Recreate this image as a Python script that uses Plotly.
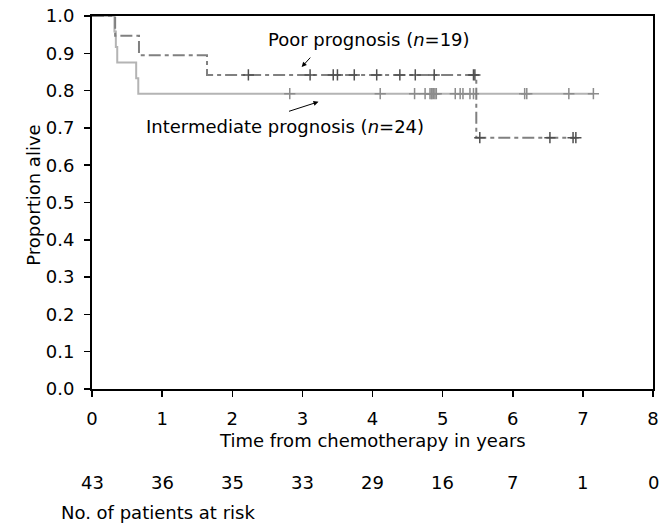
import plotly.graph_objects as go

# ---- data ----
# Poor prognosis group (n=19): follow-up times in years and event flag (1 = death, 0 = censored)
poor_times = [0.33, 0.67, 1.64, 2.23, 3.11, 3.44, 3.50, 3.74, 4.06, 4.39, 4.61, 4.88,
              5.44, 5.46, 5.48, 5.53, 6.53, 6.86, 6.90]
poor_events = [1, 1, 1, 0, 0, 0, 0, 0, 0, 0, 0, 0,
               0, 0, 1, 0, 0, 0, 0]

# Intermediate prognosis group (n=24)
int_times = [0.32, 0.34, 0.36, 0.63, 0.66, 2.82, 4.11, 4.60, 4.75, 4.82, 4.84, 4.85,
             4.87, 4.89, 4.91, 5.18, 5.25, 5.29, 5.39, 5.44, 6.17, 6.20, 6.80, 7.15]
int_events = [1, 1, 1, 1, 1, 0, 0, 0, 0, 0, 0, 0,
              0, 0, 0, 0, 0, 0, 0, 0, 0, 0, 0, 0]

risk_years = [0, 1, 2, 3, 4, 5, 6, 7, 8]
risk_counts = [43, 36, 35, 33, 29, 16, 7, 1, 0]

x_ticks = [0, 1, 2, 3, 4, 5, 6, 7, 8]
y_ticks = [0.0, 0.1, 0.2, 0.3, 0.4, 0.5, 0.6, 0.7, 0.8, 0.9, 1.0]


def kaplan_meier(times, events):
    pairs = sorted(zip(times, events))
    n_risk = len(pairs)
    s = 1.0
    xs, ys = [0.0], [1.0]
    cx, cy = [], []
    uniq = sorted(set(t for t, _ in pairs))
    for t in uniq:
        d = sum(1 for tt, e in pairs if tt == t and e == 1)
        c = sum(1 for tt, e in pairs if tt == t and e == 0)
        if d:
            s *= (n_risk - d) / n_risk
            xs.append(t)
            ys.append(s)
        for _ in range(c):
            cx.append(t)
            cy.append(s)
        n_risk -= d + c
    xs.append(max(times))
    ys.append(s)
    return xs, ys, cx, cy


FONT = "DejaVu Sans"
FS = 18

fig = go.Figure()

ix, iy, icx, icy = kaplan_meier(int_times, int_events)
px_, py_, pcx, pcy = kaplan_meier(poor_times, poor_events)

fig.add_trace(go.Scatter(x=ix, y=iy, mode="lines", line=dict(shape="hv", color="#b4b4b4", width=2),
                         showlegend=False, hoverinfo="skip", cliponaxis=False))
fig.add_trace(go.Scatter(x=icx, y=icy, mode="markers",
                         marker=dict(symbol="cross-thin", size=8, line=dict(color="#8c8c8c", width=1.5)),
                         showlegend=False, cliponaxis=False))
fig.add_trace(go.Scatter(x=px_, y=py_, mode="lines",
                         line=dict(shape="hv", color="#808080", width=2, dash="12px,4px,4px,4px"),
                         showlegend=False, hoverinfo="skip", cliponaxis=False))
fig.add_trace(go.Scatter(x=pcx, y=pcy, mode="markers",
                         marker=dict(symbol="cross-thin", size=8, line=dict(color="#505050", width=1.5)),
                         showlegend=False, cliponaxis=False))

annotations = [
    dict(x=2.99, y=0.863, xref="x", yref="y", ax=10, ay=-11, showarrow=True,
         arrowhead=2, arrowsize=1, arrowwidth=1, arrowcolor="black", text=""),
    dict(x=3.95, y=0.937, xref="x", yref="y", showarrow=False,
         text="Poor prognosis (<i>n</i>=19)", font=dict(family=FONT, size=FS, color="black")),
    dict(x=3.23, y=0.770, xref="x", yref="y", ax=-31, ay=10, showarrow=True,
         arrowhead=2, arrowsize=1, arrowwidth=1, arrowcolor="black", text=""),
    dict(x=2.75, y=0.705, xref="x", yref="y", showarrow=False,
         text="Intermediate prognosis (<i>n</i>=24)", font=dict(family=FONT, size=FS, color="black")),
    dict(x=0.5, y=-0.137, xref="paper", yref="paper", showarrow=False, yanchor="middle",
         text="Time from chemotherapy in years", font=dict(family=FONT, size=FS, color="black")),
    dict(x=-0.128, y=0.52, xref="paper", yref="paper", showarrow=False, textangle=-90,
         text="Proportion alive", font=dict(family=FONT, size=FS, color="black")),
    dict(x=-0.0595, y=-0.332, xref="paper", yref="paper", showarrow=False, xanchor="left", yanchor="middle",
         text="No. of patients at risk", font=dict(family=FONT, size=FS, color="black")),
]
for yr, cnt in zip(risk_years, risk_counts):
    annotations.append(dict(x=yr, y=-0.252, xref="x", yref="paper", showarrow=False, yanchor="middle",
                            text=str(cnt), font=dict(family=FONT, size=FS, color="black")))

fig.update_layout(
    template="none",
    width=660, height=526,
    margin=dict(l=92, r=7, t=16, b=137, autoexpand=False),
    paper_bgcolor="white", plot_bgcolor="white",
    font=dict(family=FONT, size=FS, color="black"),
    annotations=annotations,
    showlegend=False,
)
fig.update_xaxes(range=[0, 8], tickvals=x_ticks, ticktext=[str(v) for v in x_ticks], automargin=False,
                 showgrid=False, zeroline=False, showline=True, linecolor="black", linewidth=2,
                 mirror=True, ticks="outside", ticklen=6, tickwidth=1.5, tickcolor="black",
                 ticklabelstandoff=6, ticklabeloverflow="allow")
fig.update_yaxes(range=[0, 1], tickvals=y_ticks, ticktext=[f"{v:.1f}" for v in y_ticks], automargin=False,
                 showgrid=False, zeroline=False, showline=True, linecolor="black", linewidth=2,
                 mirror=True, ticks="outside", ticklen=6, tickwidth=1.5, tickcolor="black",
                 ticklabelstandoff=6, ticklabeloverflow="allow")

# remove the browser's default 8px body margin so the figure fills the window exactly
fig.write_html("out.html",
               config={"displayModeBar": False, "staticPlot": True},
               post_script="document.body.style.margin='0';document.body.style.overflow='hidden';")
